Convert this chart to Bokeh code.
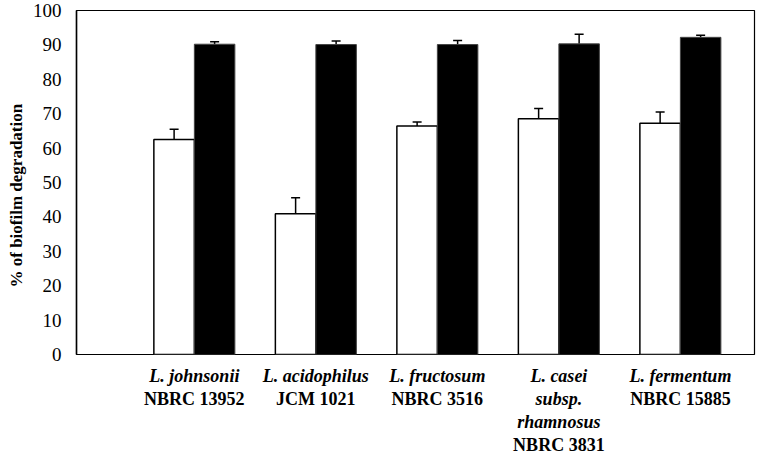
from bokeh.plotting import figure
from bokeh.models import ColumnDataSource, Whisker, TeeHead, FixedTicker, Range1d, Title
from bokeh.layouts import column
from bokeh.core.properties import value
from bokeh.embed import file_html
from bokeh.resources import INLINE

species = ["L. johnsonii", "L. acidophilus", "L. fructosum", "L. casei\nsubsp.\nrhamnosus", "L. fermentum"]
strains = ["NBRC 13952", "JCM 1021", "NBRC 3516", "NBRC 3831", "NBRC 15885"]
control = [62.5, 40.9, 66.4, 68.5, 67.2]
control_err = [3.0, 4.7, 1.2, 3.0, 3.3]
treated = [90.2, 90.1, 90.1, 90.3, 92.2]
treated_err = [0.7, 1.0, 1.2, 2.8, 0.6]
y_ticks = list(range(0, 101, 10))
y_title = "% of biofilm degradation"

FONT = "Liberation Serif"
W = 756
TOP = 10
FRAME_H = 344
BOT = 10
MAIN_H = TOP + FRAME_H + BOT
LAB_H = 453 - MAIN_H
pos = [i + 1 for i in range(len(species))]
off = 1 / 6
bw = 1 / 3
xr = Range1d(0.03, 5.61)


def style_left(fig, hidden=False):
    ax = fig.yaxis[0]
    ax.ticker = FixedTicker(ticks=y_ticks)
    ax.axis_line_color = None if hidden else "black"
    ax.axis_line_width = 1.5
    ax.major_tick_out = 0
    ax.major_tick_in = 0
    ax.minor_tick_out = 0
    ax.minor_tick_in = 0
    ax.major_label_text_font = FONT
    ax.major_label_text_font_size = "19px"
    ax.major_label_text_color = "black"
    ax.major_label_text_alpha = 0 if hidden else 1
    ax.major_label_standoff = 15
    t = Title(text=y_title, text_font=FONT, text_font_style="bold", text_font_size="17px",
              text_color="black", text_alpha=0 if hidden else 1, align="left",
              offset=67, standoff=8)
    fig.add_layout(t, "left")


p = figure(width=W, height=MAIN_H, x_range=xr, y_range=Range1d(0, 100),
           output_backend="svg", toolbar_location=None,
           min_border_left=60, min_border_right=2, min_border_top=TOP, min_border_bottom=BOT)
p.background_fill_color = "white"
p.border_fill_color = "white"
p.outline_line_color = "black"
p.outline_line_width = 1.2
p.xgrid.visible = False
p.ygrid.visible = False
p.xaxis.visible = False

src_c = ColumnDataSource(dict(x=[v - off for v in pos], top=control,
                              upper=[a + b for a, b in zip(control, control_err)]))
src_t = ColumnDataSource(dict(x=[v + off for v in pos], top=treated,
                              upper=[a + b for a, b in zip(treated, treated_err)]))

p.vbar(x="x", top="top", bottom=0, width=bw, source=src_c, fill_color="white",
       line_color="black", line_width=1.5)
p.vbar(x="x", top="top", bottom=0, width=bw, source=src_t, fill_color="black",
       line_color="#444444", line_width=1)

for s in (src_c, src_t):
    w = Whisker(source=s, base="x", lower="top", upper="upper", dimension="height",
                line_color="black", line_width=1.5,
                upper_head=TeeHead(size=9, line_color="black", line_width=1.5), lower_head=None)
    p.add_layout(w)

style_left(p)

# label strip below the plot, sharing the x scale
first = 21 - BOT
step = 23
it_x, it_y, it_t, bd_x, bd_y, bd_t = [], [], [], [], [], []
for x, sp, st in zip(pos, species, strains):
    lines = sp.split("\n")
    for j, line in enumerate(lines):
        it_x.append(x)
        it_y.append(-(first + j * step))
        it_t.append(line)
    bd_x.append(x)
    bd_y.append(-(first + len(lines) * step))
    bd_t.append(st)

q = figure(width=W, height=LAB_H, x_range=xr, y_range=Range1d(-LAB_H, 0),
           output_backend="svg", toolbar_location=None,
           min_border_left=60, min_border_right=2, min_border_top=0, min_border_bottom=0)
q.outline_line_color = None
q.background_fill_color = "white"
q.border_fill_color = "white"
q.xgrid.visible = False
q.ygrid.visible = False
q.xaxis.visible = False
style_left(q, hidden=True)

q.text(x=it_x, y=it_y, text=it_t, text_font=value(FONT), text_font_style="bold italic",
       text_font_size="18px", text_align="center", text_baseline="middle", text_color="black")
q.text(x=bd_x, y=bd_y, text=bd_t, text_font=value(FONT), text_font_style="bold",
       text_font_size="18px", text_align="center", text_baseline="middle", text_color="black")

layout = column(p, q, spacing=0)
open("out.html", "w").write(file_html(layout, INLINE))
